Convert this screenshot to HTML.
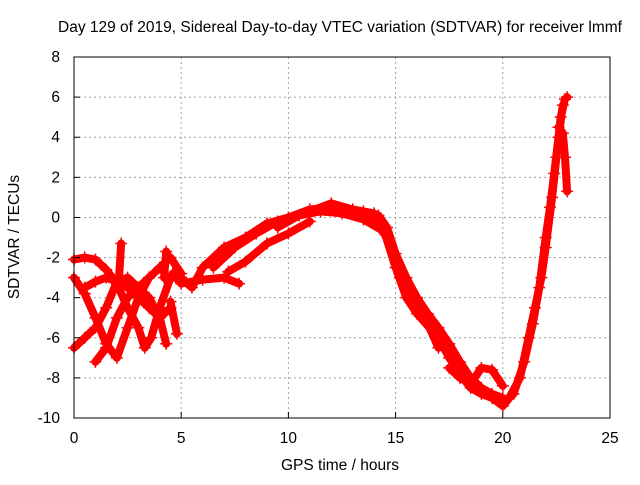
<!DOCTYPE html>
<html><head><meta charset="utf-8"><style>
body{margin:0;background:#fff}
text{font-family:"Liberation Sans",sans-serif;font-size:15.5px;fill:#000}
</style></head><body>
<svg id="c" width="640" height="480">
<text x="340" y="32" text-anchor="middle">Day 129 of 2019, Sidereal Day-to-day VTEC variation (SDTVAR) for receiver lmmf</text>
<text x="340" y="470" text-anchor="middle">GPS time / hours</text>
<text transform="translate(19,237) rotate(-90)" text-anchor="middle">SDTVAR / TECUs</text>
<g id="grid"></g><g id="marks"></g><g id="axes"></g>
</svg>
<script>
const xTicks=[0,5,10,15,20,25];
const yTicks=[-10,-8,-6,-4,-2,0,2,4,6,8];
const track1=[[0,-2.1],[0.5,-2],[1,-2.1],[1.5,-2.6],[2,-3.3],[2.5,-4.5],[3,-5.5],[3.3,-6.5],[3.6,-6],[4,-4.5],[4.5,-3],[5,-3],[5.5,-3.5],[6,-2.5],[7,-1.5],[8,-1],[9,-0.3],[10,0],[11,0.4],[12,0.5],[13,0.3],[14,0],[14.5,-0.8],[15,-2.5],[15.5,-4],[16,-4.8],[17,-6],[17.5,-7],[18,-7.8],[18.5,-8.5],[19,-8.8],[19.5,-9],[20,-9.4],[20.3,-9],[20.8,-8],[21.2,-6],[21.5,-4.5],[21.8,-3],[22,-1.5],[22.3,1],[22.5,3],[22.7,5],[22.9,5.9],[23,6]];
const track2=[[6.5,-2.5],[7.5,-1.5],[8.5,-0.8],[9.5,-0.2],[11,0.3],[12,0.7],[13,0.4],[14,0.2],[14.8,-1.5],[15.2,-3],[16,-4.5],[16.5,-5.3],[17,-6.5]];
const track3=[[4.6,-2.8],[5,-3.3],[6,-3.1],[7,-3],[7.7,-3.3]];
const track4=[[7.2,-2.7],[8,-2.2],[9,-1.3],[10,-0.8],[11,-0.2]];
const track5=[[17.5,-7.5],[18,-8],[18.5,-8.3],[19,-7.5],[19.5,-7.6],[20,-8.4]];
const track6=[[22.6,4.5],[22.8,4.2],[22.9,3],[23,1.3]];
const track7=[[0,-3],[0.5,-3.8],[1,-5],[1.5,-6.3],[2,-7],[2.5,-5.5],[3,-4],[3.5,-3]];
const track8=[[0,-6.5],[0.5,-6],[1,-5.5],[1.5,-4.5],[2,-3.2],[2.5,-3],[3,-3.5],[3.5,-4],[4,-5],[4.3,-6.3]];
const track9=[[1,-7.2],[1.5,-6.5],[2,-5],[2.5,-4],[3,-3.5],[3.5,-3],[4,-2.5],[4.5,-2],[5,-2.8]];
const track10=[[0.5,-3.5],[1,-3.2],[1.5,-3],[2,-3.2],[2.5,-3.5],[3,-4],[3.5,-4.5],[4,-5],[4.5,-4.5]];
const track11=[[2.1,-3],[2.2,-1.3]];
const track12=[[4.2,-3],[4.3,-1.7]];
const track13=[[4.5,-4.2],[4.8,-5.8]];
const track14=[[13.5,0.3],[14.2,0.1],[14.6,-0.5],[15,-1.8],[15.5,-3],[16,-4],[16.5,-4.8],[17,-5.5],[17.5,-6.3],[18,-7.2],[18.5,-8],[19,-8.5],[19.5,-8.8],[20,-9]];
const track15=[[9.5,-0.5],[10.5,0.1],[11.5,0.3],[12.5,0.2],[13.5,-0.1],[14.3,-0.6]];
const track16=[[20.5,-8.8],[21,-7.2],[21.4,-5.3],[21.7,-3.5],[22,-1],[22.2,0.5],[22.4,2.2],[22.6,4],[22.8,5.6]];
const tracks=[track1,track2,track3,track4,track5,track6,track7,track8,track9,track10,track11,track12,track13,track14,track15,track16];
const X0=74,X1=610,Y0=418,Y1=57;
const xs=t=>X0+(t-0)/25*(X1-X0);
const ys=v=>Y0-(v+10)/18*(Y0-Y1);
const NS="http://www.w3.org/2000/svg";
function mk(tag,attrs,parent){const e=document.createElementNS(NS,tag);for(const k in attrs)e.setAttribute(k,attrs[k]);document.getElementById(parent).appendChild(e);return e;}
xTicks.forEach(t=>{
  if(t>0&&t<25){const g=mk('line',{x1:xs(t),x2:xs(t),y1:Y1,y2:Y0,stroke:'#a0a0a0','stroke-dasharray':'2,3'},'grid');
  
  }
  const l=mk('text',{x:xs(t),y:Y0+25,'text-anchor':'middle'},'axes');l.textContent=t;
  
  
  mk('line',{x1:xs(t),x2:xs(t),y1:Y0,y2:Y0-6,stroke:'#000'},'axes');
});
yTicks.forEach(v=>{
  if(v>-10&&v<8){const g=mk('line',{x1:X0,x2:X1,y1:ys(v),y2:ys(v),stroke:'#a0a0a0','stroke-dasharray':'2,3'},'grid');
  
  }
  const l=mk('text',{x:X0-14,y:ys(v)+5,'text-anchor':'end'},'axes');l.textContent=v;
  
  
  mk('line',{x1:X0,x2:X0+6,y1:ys(v),y2:ys(v),stroke:'#000'},'axes');
});
const fr=mk('rect',{x:X0,y:Y1,width:X1-X0,height:Y0-Y1,fill:'none',stroke:'#000'},'axes');


tracks.forEach((tr,i)=>{
  const p=mk('polyline',{points:tr.map(d=>xs(d[0])+','+ys(d[1])).join(' '),fill:'none',stroke:'#ff0000','stroke-width':8,'stroke-linejoin':'round','stroke-linecap':'round'},'marks');
  
  
  tr.forEach(d=>{
    const m=mk('path',{d:`M${xs(d[0])-6},${ys(d[1])}h12M${xs(d[0])},${ys(d[1])-6}v12`,stroke:'#ff0000','stroke-width':1.5},'marks');
    
    
  });
});
</script>
</body></html>
